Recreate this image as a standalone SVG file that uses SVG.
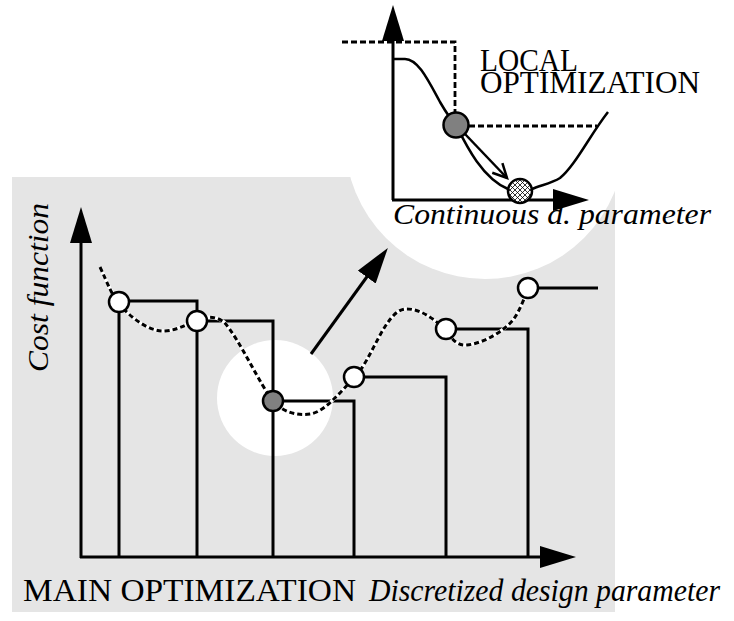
<svg xmlns="http://www.w3.org/2000/svg" width="734" height="621" viewBox="0 0 734 621">
<style>
.ln{stroke:#000;stroke-width:3;fill:none}
.th{stroke:#000;stroke-width:2.5;fill:none}
.dash{stroke:#000;stroke-width:2.8;fill:none;stroke-dasharray:6 3}
.cw{fill:#fff;stroke:#000;stroke-width:2.5}
.cg{fill:#808080;stroke:#000;stroke-width:2.5}
text{font-family:"Liberation Serif","Times New Roman",serif;fill:#000}
.it{font-style:italic}
</style>
<defs>
<marker id="ah" markerUnits="userSpaceOnUse" markerWidth="36" markerHeight="22" refX="26" refY="11" orient="auto">
<path d="M0,0 L36,11 L0,22 z" fill="#000"/>
</marker>
<marker id="oh" markerUnits="userSpaceOnUse" markerWidth="18" markerHeight="18" refX="15" refY="9" orient="auto">
<path d="M1,2 L15,9 L1,16" fill="none" stroke="#000" stroke-width="2.5"/>
</marker>
<pattern id="hatch" patternUnits="userSpaceOnUse" width="5" height="5">
<rect width="5" height="5" fill="#fff"/>
<path d="M0,0 L5,5 M5,0 L0,5" stroke="#000" stroke-width="0.8"/>
</pattern>
</defs>

<g id="background">
<rect x="12" y="177" width="603" height="435" fill="#e5e5e5"/>
<circle cx="485" cy="139" r="140" fill="#fff"/>
<circle cx="275" cy="398" r="58" fill="#fff"/>
</g>

<g id="connectors">
<line class="ln" x1="81" y1="558" x2="81" y2="217" marker-end="url(#ah)"/>
<line class="ln" x1="80" y1="557" x2="566" y2="557" marker-end="url(#ah)"/>
<path class="ln" d="M119,557 V302 M119,301 H197 V557 M197,321 H273 V557 M273,401 H354 V557 M354,377 H446 V557 M446,329 H528 V557 M528,288 H598"/>
<path d="M100,267 C108,284 112,296 119,303 C130,318 150,332 165,331 C180,330 190,322 197,320 C205,317 214,315 224,322 C240,340 260,385 273,401 C283,412 296,416 310,414 C325,412 340,392 354,378 C372,360 385,311 405,309 C422,308 437,322 446,330 C452,340 458,346 467,345 C485,343 505,330 513,320 C519,312 522,303 525,297" fill="none" stroke="#fff" stroke-width="3.5"/>
<path d="M100,267 C108,284 112,296 119,303 C130,318 150,332 165,331 C180,330 190,322 197,320 C205,317 214,315 224,322 C240,340 260,385 273,401 C283,412 296,416 310,414 C325,412 340,392 354,378 C372,360 385,311 405,309 C422,308 437,322 446,330 C452,340 458,346 467,345 C485,343 505,330 513,320 C519,312 522,303 525,297" fill="none" stroke="#000" stroke-width="3" stroke-dasharray="5 3"/>
<line class="ln" x1="311" y1="354" x2="382" y2="256" marker-end="url(#ah)"/>
<line class="ln" x1="393" y1="200" x2="393" y2="15" marker-end="url(#ah)"/>
<line class="ln" x1="392" y1="200" x2="579" y2="200" marker-end="url(#ah)"/>
<path class="dash" d="M342,42 H455 V112"/>
<path class="dash" d="M469,126 H597"/>
<path class="th" d="M393,59 L405,59 C418,59 428,80 440,102 C447,114 451,120 456,125 C466,145 482,178 508,189"/>
<path class="th" d="M532,189 C542,185 552,183 560,178 C575,166 590,135 608,112"/>
<line x1="465" y1="134" x2="507" y2="178" stroke="#000" stroke-width="2.5" marker-end="url(#oh)"/>
</g>

<g id="node-p1"><circle class="cw" cx="119" cy="302" r="10"/></g>
<g id="node-p2"><circle class="cw" cx="197" cy="321" r="10"/></g>
<g id="node-p3"><circle class="cg" cx="273" cy="401" r="10"/></g>
<g id="node-p4"><circle class="cw" cx="354" cy="377" r="10"/></g>
<g id="node-p5"><circle class="cw" cx="446" cy="329" r="10"/></g>
<g id="node-p6"><circle class="cw" cx="528" cy="288" r="10"/></g>
<g id="node-start"><circle class="cg" cx="456" cy="125" r="12.5"/></g>
<g id="node-opt"><circle cx="520" cy="191" r="12" fill="url(#hatch)" stroke="#000" stroke-width="2.5"/></g>

<g id="labels">
<text font-family="Liberation Serif, serif" x="480" y="71" font-size="31" textLength="98" lengthAdjust="spacingAndGlyphs">LOCAL</text>
<text font-family="Liberation Serif, serif" x="480" y="93" font-size="31" textLength="220" lengthAdjust="spacingAndGlyphs">OPTIMIZATION</text>
<text class="it" font-family="Liberation Serif, serif" x="393" y="224" font-size="29" textLength="318" lengthAdjust="spacingAndGlyphs">Continuous d. parameter</text>
<text class="it" font-family="Liberation Serif, serif" transform="translate(48,372) rotate(-90)" font-size="30" textLength="169" lengthAdjust="spacingAndGlyphs">Cost function</text>
<text font-family="Liberation Serif, serif" x="23" y="601" font-size="31" textLength="333" lengthAdjust="spacingAndGlyphs">MAIN OPTIMIZATION</text>
<text class="it" font-family="Liberation Serif, serif" x="369" y="601" font-size="31" textLength="351" lengthAdjust="spacingAndGlyphs">Discretized design parameter</text>
</g>
</svg>
